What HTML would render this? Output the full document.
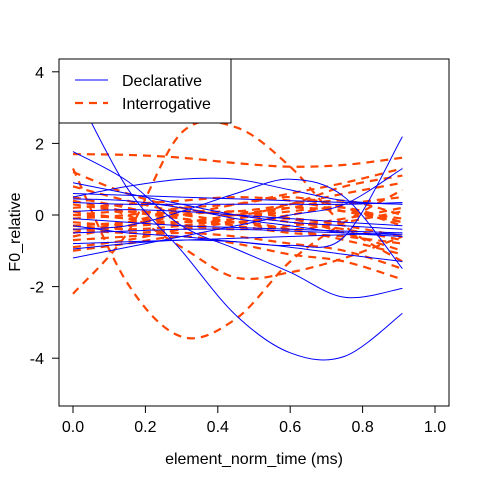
<!DOCTYPE html>
<html><head><meta charset="utf-8"><style>
body{margin:0;background:#fff}
svg{display:block;font-family:"Liberation Sans",Arial,sans-serif}
</style></head><body>
<svg id="chart" width="480" height="480" viewBox="0 0 480 480" xmlns="http://www.w3.org/2000/svg">
<defs><clipPath id="clip"><rect x="59" y="59" width="390" height="347"/></clipPath></defs>
<rect width="480" height="480" fill="#fff"/>
<g id="series" clip-path="url(#clip)"></g>
<g id="axes"></g>
<rect x="59" y="59" width="390" height="347" fill="none" stroke="#000" stroke-width="1"/>
<g>
<rect x="59" y="59" width="172" height="64" fill="#fff" stroke="#000"/>
<line x1="75" y1="80" x2="108" y2="80" stroke="#0000ff" stroke-width="1"/>
<text x="122" y="86" font-size="16">Declarative</text>
<line x1="75" y1="103" x2="108" y2="103" stroke="#ff4500" stroke-width="2.2" stroke-dasharray="8,6"/>
<text x="122" y="109" font-size="16">Interrogative</text>
</g>
<text x="254" y="464" font-size="16" text-anchor="middle">element_norm_time (ms)</text>
<text x="20" y="232" font-size="16" text-anchor="middle" transform="rotate(-90 20 232)">F0_relative</text>
</svg>
<script>
const times=[0,0.15,0.3,0.45,0.6,0.75,0.91];
const xTicks=[0,0.2,0.4,0.6,0.8,1.0];
const xTickLabels=["0.0","0.2","0.4","0.6","0.8","1.0"];
const yTicks=[4,2,0,-2,-4];
const yTickLabels=["4","2","0","-2","-4"];
const declarative=[
[3.6,0.75,-1.0,-2.8,-3.85,-3.95,-2.75],
[1.77,0.95,-0.3,-0.95,-1.6,-2.3,-2.05],
[-0.3,-0.5,-0.6,-0.75,-0.85,-0.6,2.19],
[0.5,0.8,1.0,1.0,0.7,0.4,0.3],
[-0.4,-0.3,0.1,0.6,1.0,0.5,-1.5],
[0.6,0.55,0.5,0.45,0.4,0.35,0.3],
[0.35,0.3,0.3,0.3,0.3,0.3,0.35],
[0.1,0.15,0.1,0.0,-0.1,-0.2,-0.3],
[-0.1,-0.2,-0.3,-0.35,-0.4,-0.45,-0.5],
[-0.5,-0.45,-0.4,-0.4,-0.45,-0.5,-0.55],
[-0.8,-0.75,-0.7,-0.65,-0.6,-0.55,-0.5],
[-0.95,-0.8,-0.7,-0.75,-0.9,-1.1,-1.3],
[0.9,0.6,0.3,0.0,-0.2,-0.3,-0.4],
[-1.2,-0.9,-0.6,-0.3,0.0,0.3,1.3],
[0.45,0.4,0.2,-0.1,-0.3,-0.5,-0.6]
];
const interrogative=[
[-2.2,-0.5,2.3,2.45,1.35,-0.3,-1.3],
[1.3,-1.9,-3.4,-2.9,-1.3,-0.2,0.7],
[1.7,1.68,1.6,1.45,1.35,1.4,1.6],
[0.3,0.0,-0.9,-1.75,-1.6,-1.2,-0.6],
[-1.0,-0.8,-0.6,-0.8,-1.1,-1.3,-1.8],
[1.2,0.6,0.2,0.0,0.3,0.8,1.1],
[-0.6,-0.3,0.0,0.3,0.6,0.9,1.3],
[0.5,0.2,-0.1,-0.2,0.0,0.3,0.5],
[-0.2,-0.3,-0.2,0.0,0.2,0.1,-0.1],
[0.0,-0.1,-0.3,-0.4,-0.3,-0.1,0.2],
[-0.4,-0.5,-0.4,-0.2,-0.1,-0.3,-0.6],
[0.2,0.3,0.4,0.5,0.4,0.1,-0.2],
[-0.3,-0.2,0.0,0.1,-0.1,-0.5,-1.0],
[0.1,-0.1,-0.2,-0.1,0.2,0.4,0.0],
[-0.7,-0.6,-0.5,-0.6,-0.8,-1.0,-1.5],
[0.4,0.1,-0.1,-0.3,-0.5,-0.6,-0.8],
[-0.1,0.0,0.2,0.3,0.5,0.2,-0.3],
[-0.5,-0.2,0.1,0.0,-0.2,-0.4,-0.7],
[0.8,0.4,0.1,0.1,0.3,0.6,0.9],
[-0.9,-0.7,-0.4,-0.2,-0.4,-0.7,-1.1],
[0.0,0.1,0.0,-0.2,-0.4,-0.2,0.1],
[-0.3,-0.4,-0.3,-0.1,0.1,0.2,-0.2]
];
const xs=t=>73+362*t;
const ys=v=>215-35.8*v;
const NS="http://www.w3.org/2000/svg";
function pathFor(vals){
  const p=times.map((t,i)=>[xs(t),ys(vals[i])]);
  let d="M"+p[0][0].toFixed(1)+","+p[0][1].toFixed(1);
  for(let i=0;i<p.length-1;i++){
    const p0=p[Math.max(0,i-1)],p1=p[i],p2=p[i+1],p3=p[Math.min(p.length-1,i+2)];
    const c1=[p1[0]+(p2[0]-p0[0])/6,p1[1]+(p2[1]-p0[1])/6];
    const c2=[p2[0]-(p3[0]-p1[0])/6,p2[1]-(p3[1]-p1[1])/6];
    d+=" C"+c1.map(n=>n.toFixed(1))+" "+c2.map(n=>n.toFixed(1))+" "+p2.map(n=>n.toFixed(1));
  }
  return d;
}
const g=document.getElementById("series");
interrogative.forEach((vals,i)=>{
  const el=document.createElementNS(NS,"path");
  
  
  el.setAttribute("d",pathFor(vals));
  el.setAttribute("fill","none");el.setAttribute("stroke","#ff4500");
  el.setAttribute("stroke-width","2.2");el.setAttribute("stroke-dasharray","8,6");
  g.appendChild(el);
});
declarative.forEach((vals,i)=>{
  const el=document.createElementNS(NS,"path");
  
  
  el.setAttribute("d",pathFor(vals));
  el.setAttribute("fill","none");el.setAttribute("stroke","#0000ff");
  el.setAttribute("stroke-width","1");
  g.appendChild(el);
});
const ax=document.getElementById("axes");
xTicks.forEach((t,i)=>{
  const l=document.createElementNS(NS,"line");
  
  
  l.setAttribute("x1",xs(t));l.setAttribute("x2",xs(t));l.setAttribute("y1",406);l.setAttribute("y2",413);
  l.setAttribute("stroke","#000");ax.appendChild(l);
  const tx=document.createElementNS(NS,"text");
  
  
  tx.setAttribute("x",xs(t));tx.setAttribute("y",432);tx.setAttribute("font-size","16");
  tx.setAttribute("text-anchor","middle");tx.textContent=xTickLabels[i];ax.appendChild(tx);
});
yTicks.forEach((v,i)=>{
  const l=document.createElementNS(NS,"line");
  
  
  l.setAttribute("x1",52);l.setAttribute("x2",59);l.setAttribute("y1",ys(v));l.setAttribute("y2",ys(v));
  l.setAttribute("stroke","#000");ax.appendChild(l);
  const tx=document.createElementNS(NS,"text");
  
  
  tx.setAttribute("x",44);tx.setAttribute("y",ys(v)+6);tx.setAttribute("font-size","16");
  tx.setAttribute("text-anchor","end");tx.textContent=yTickLabels[i];ax.appendChild(tx);
});
</script>
</body></html>
